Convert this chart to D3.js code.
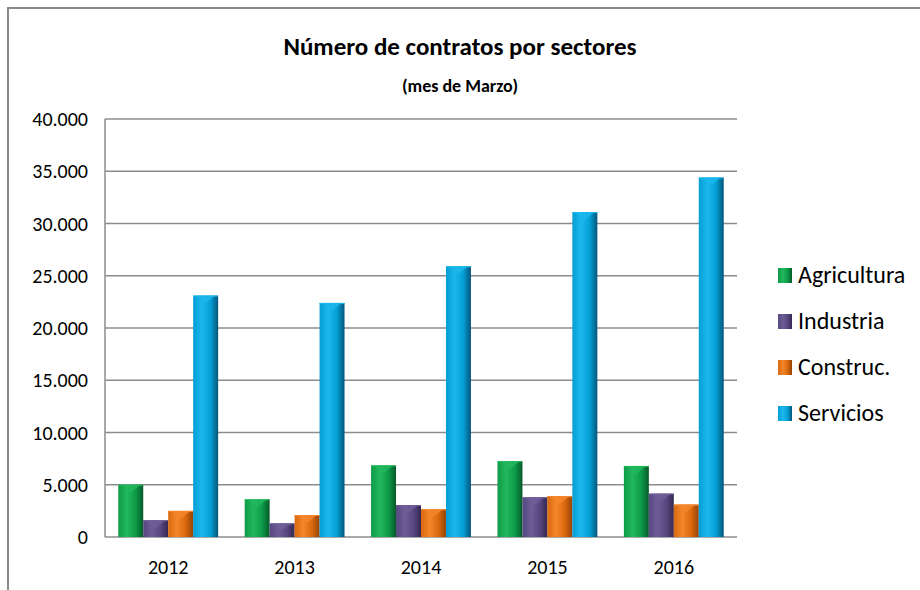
<!DOCTYPE html>
<html><head><meta charset="utf-8">
<script src="https://cdn.jsdelivr.net/npm/d3@7"></script>
<style>body{margin:0;background:#fff}svg{display:block}text{font-family:Carlito,Lato,sans-serif;fill:#000}</style>
</head><body><svg id="c" width="920" height="590"></svg>
<script>
const years = ["2012","2013","2014","2015","2016"];
const seriesNames = ["Agricultura","Industria","Construc.","Servicios"];
const agricultura = [5000, 3600, 6850, 7250, 6800];
const industria = [1600, 1300, 3050, 3800, 4150];
const construc = [2500, 2100, 2650, 3900, 3100];
const servicios = [23100, 22400, 25900, 31100, 34400];
const yTicks = [0,5000,10000,15000,20000,25000,30000,35000,40000];
const seriesValues = [agricultura, industria, construc, servicios];
const colors = [
  {base:"#0d9a48", light:"#22b85c", dark:"#055a28"},
  {base:"#574780", light:"#6e5e98", dark:"#33284f"},
  {base:"#d9680e", light:"#f5862a", dark:"#944204"},
  {base:"#049ed4", light:"#1cb8ec", dark:"#03567a"}
];

const svg = d3.select("#c");
const M = {left:105, right:737, top:119, bottom:537};

const x0 = d3.scaleBand().domain(years).range([M.left, M.right]).paddingInner(0.21).paddingOuter(0.105);
const x1 = d3.scaleBand().domain(seriesNames).range([0, x0.bandwidth()]);
const y = d3.scaleLinear().domain([0,40000]).range([M.bottom, M.top]);
const fmt = v => d3.format(",")(v).replace(/,/g,".");

const defs = svg.append("defs");
colors.forEach((c,i)=>{
  const g = defs.append("linearGradient").attr("id","g"+i).attr("x1","0").attr("x2","1").attr("y1","0").attr("y2","0");
  g.append("stop").attr("offset","0").attr("stop-color",c.base);
  g.append("stop").attr("offset","0.35").attr("stop-color",c.light);
  g.append("stop").attr("offset","0.7").attr("stop-color",c.base);
  g.append("stop").attr("offset","1").attr("stop-color",c.dark);
});

// outer frame (top and left only)
svg.append("line").attr("x1",7).attr("x2",920).attr("y1",8).attr("y2",8).attr("stroke","#8a8a8a").attr("stroke-width",2);
svg.append("line").attr("x1",8).attr("x2",8).attr("y1",7).attr("y2",590).attr("stroke","#8a8a8a").attr("stroke-width",2);

// title
svg.append("text").attr("x",460).attr("y",55).attr("text-anchor","middle").attr("font-size",25).attr("font-weight","bold").text("Número de contratos por sectores");
svg.append("text").attr("x",460).attr("y",92).attr("text-anchor","middle").attr("font-size",18).attr("font-weight","bold").text("(mes de Marzo)");

// gridlines
svg.append("g").selectAll("line").data(yTicks).join("line")
  .attr("x1",M.left).attr("x2",M.right).attr("y1",d=>y(d)).attr("y2",d=>y(d))
  .attr("stroke","#8c8c8c").attr("stroke-width",1.5);
svg.append("line").attr("x1",M.left).attr("x2",M.left).attr("y1",M.top).attr("y2",M.bottom).attr("stroke","#8c8c8c").attr("stroke-width",1.5);

// y axis labels
svg.append("g").selectAll("text").data(yTicks).join("text")
  .attr("x",88).attr("y",d=>y(d)+7).attr("text-anchor","end").attr("font-size",20).text(d=>fmt(d));

// x labels
svg.append("g").selectAll("text").data(years).join("text")
  .attr("x",d=>x0(d)+x0.bandwidth()/2).attr("y",574).attr("text-anchor","middle").attr("font-size",20).text(d=>d);

// bars
const groups = svg.append("g").selectAll("g").data(years).join("g").attr("transform",d=>`translate(${x0(d)},0)`);
groups.each(function(yr, yi){
  const g = d3.select(this);
  seriesNames.forEach((s, si)=>{
    const v = seriesValues[si][yi];
    const bx = x1(s), bw = x1.bandwidth(), by = y(v), bh = y(0)-y(v);
    g.append("rect").attr("x",bx).attr("y",by).attr("width",bw).attr("height",bh).attr("fill",`url(#g${si})`);
    const th = Math.min(8, bh/2);
    g.append("path").attr("d",`M${bx+3},${by}L${bx+bw-3},${by}L${bx+bw/2},${by+th}Z`).attr("fill",colors[si].light).attr("opacity",0.8);
    g.append("line").attr("x1",bx).attr("x2",bx+bw).attr("y1",by+0.5).attr("y2",by+0.5).attr("stroke",colors[si].light).attr("stroke-width",1);
  });
});

// legend
const lg = svg.append("g").selectAll("g").data(seriesNames).join("g")
  .attr("transform",(d,i)=>`translate(778,${268+i*46})`);
lg.append("rect").attr("width",14).attr("height",15).attr("fill",(d,i)=>`url(#g${i})`);
lg.append("text").attr("x",20).attr("y",15).attr("font-size",24).text(d=>d);
</script></body></html>
